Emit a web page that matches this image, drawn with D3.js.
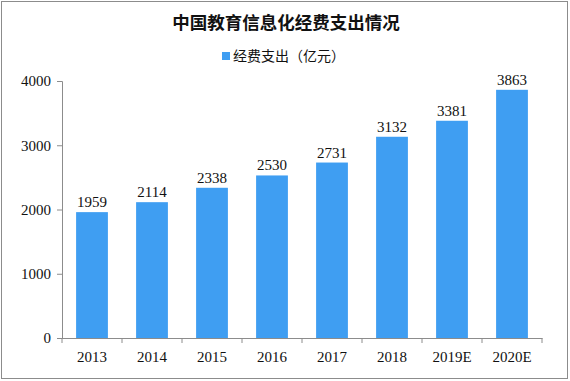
<!DOCTYPE html>
<html lang="zh">
<head>
<meta charset="UTF-8">
<title>中国教育信息化经费支出情况</title>
<script src="https://d3js.org/d3.v7.min.js"></script>
<style>
  body { margin: 0; background: #fff; }
  svg { display: block; }
</style>
</head>
<body>
<svg id="chart" width="570" height="381"></svg>
<script>
// data
const years = ["2013", "2014", "2015", "2016", "2017", "2018", "2019E", "2020E"];
const spending = [1959, 2114, 2338, 2530, 2731, 3132, 3381, 3863];
const yTicks = [0, 1000, 2000, 3000, 4000];

const W = 570, H = 381;
const margin = { top: 81, right: 28, bottom: 43, left: 62 };
const width = W - margin.left - margin.right;
const height = H - margin.top - margin.bottom;

const svg = d3.select("#chart");

// outer frame
svg.append("rect")
  .attr("x", 1.5).attr("y", 1.5)
  .attr("width", W - 4).attr("height", H - 4)
  .attr("fill", "none")
  .attr("stroke", "#8c8c8c")
  .attr("stroke-width", 1);

// title
svg.append("text")
  .attr("x", 286).attr("y", 29)
  .attr("text-anchor", "middle")
  .attr("font-family", "'Noto Sans CJK SC', sans-serif")
  .attr("font-weight", "bold")
  .attr("font-size", "17.5px")
  .attr("fill", "#111")
  .text("中国教育信息化经费支出情况");

// legend
const legend = svg.append("g").attr("transform", "translate(222, 52)");
legend.append("rect")
  .attr("width", 8).attr("height", 8)
  .attr("fill", "#3f9ef2");
legend.append("text")
  .attr("x", 11).attr("y", 9)
  .attr("font-family", "'Noto Sans CJK SC', sans-serif")
  .attr("font-size", "14px")
  .attr("fill", "#111")
  .text("经费支出（亿元）");

const g = svg.append("g")
  .attr("transform", `translate(${margin.left}, ${margin.top})`);

const x = d3.scaleBand()
  .domain(years)
  .range([0, width])
  .paddingInner(0.47)
  .paddingOuter(0.235);

const y = d3.scaleLinear()
  .domain([0, 4000])
  .range([height, 0]);

const data = years.map((yr, i) => ({ year: yr, value: spending[i] }));

// bars
g.selectAll(".bar")
  .data(data)
  .enter()
  .append("rect")
  .attr("class", "bar")
  .attr("x", d => x(d.year))
  .attr("y", d => y(d.value))
  .attr("width", x.bandwidth())
  .attr("height", d => height - y(d.value))
  .attr("fill", "#3f9ef2");

// value labels
g.selectAll(".label")
  .data(data)
  .enter()
  .append("text")
  .attr("class", "label")
  .attr("x", d => x(d.year) + x.bandwidth() / 2)
  .attr("y", d => y(d.value) - 5)
  .attr("text-anchor", "middle")
  .attr("font-family", "'Liberation Serif', serif")
  .attr("font-size", "15px")
  .attr("fill", "#111")
  .text(d => d.value);

// y axis
const yAxis = g.append("g")
  .call(d3.axisLeft(y).tickValues(yTicks).tickFormat(d3.format("d")).tickSize(5).tickPadding(6));

// x axis, ticks on band edges
const xAxis = g.append("g")
  .attr("transform", `translate(0, ${height})`)
  .call(d3.axisBottom(x).tickSize(0).tickPadding(13));

const step = x.step();
xAxis.selectAll(".edge")
  .data(d3.range(years.length + 1))
  .enter()
  .append("line")
  .attr("class", "edge")
  .attr("x1", i => i * step)
  .attr("x2", i => i * step)
  .attr("y1", 0)
  .attr("y2", 5)
  .attr("stroke", "#8c8c8c");

[yAxis, xAxis].forEach(a => {
  a.select(".domain").attr("stroke", "#8c8c8c");
  a.selectAll(".tick line").attr("stroke", "#8c8c8c");
  a.selectAll("text")
    .attr("font-family", "'Liberation Serif', serif")
    .attr("font-size", "15px")
    .attr("fill", "#111");
});
yAxis.select(".domain").attr("d", `M-5,0.5H0.5V${height + 0.5}`);
xAxis.select(".domain").attr("d", `M-5,0.5H${width + 0.5}`);
</script>
</body>
</html>
